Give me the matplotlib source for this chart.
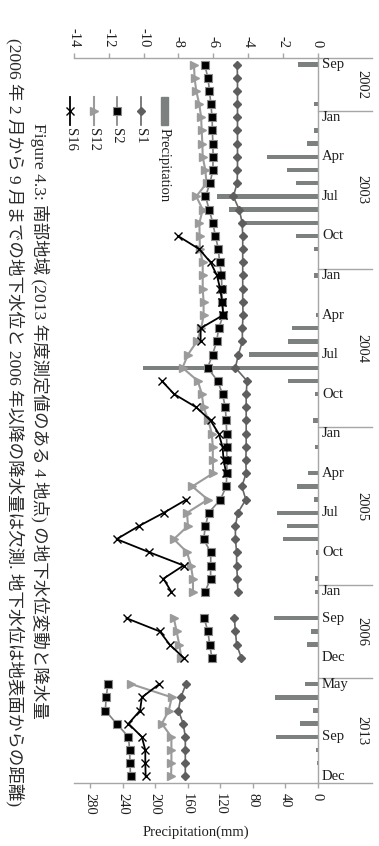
import numpy as np
import matplotlib
matplotlib.use('Agg')
from matplotlib import pyplot as plt
from matplotlib.lines import Line2D
from matplotlib.patches import Rectangle
from matplotlib.transforms import blended_transform_factory

nan = np.nan

# one slot per month, blank slots are the gaps in the record
month_labels = (['Sep', '', '', ''] +
                ['Jan', '', '', 'Apr', '', '', 'Jul', '', '', 'Oct', '', ''] * 3 +
                ['Jan', '', 'Sep', '', '', 'Dec', ''] +
                ['May', '', '', '', 'Sep', '', '', 'Dec'])
years = ['2002', '2003', '2004', '2005', '2006', '2013']
year_sizes = [4, 12, 12, 12, 7, 8]

precip = [24, 0, 0, 4.5, 0, 4.5, 13, 62, 37.5, 27, 124, 108.5, 91, 26.5, 4.5, 0,
          4.5, 0, 0, 2, 31.5, 36.5, 84.5, 215, 36.5, 3, 0, 5, 0, 2.5, 0, 12,
          25.7, 4.2, 49.5, 38, 42, 2, 0, 2.5, 3.5, nan, 54, 7.7, 13, 0, nan,
          15.6, 52.8, 5.5, 21.6, 51, 1.5, 1, 0]

s1 = [-4.62, -4.6, -4.6, -4.6, -4.6, -4.6, -4.6, -4.6, -4.6, -4.62, -4.84, -4.5, -4.33, -4.3, -4.3, -4.3,
      -4.3, -4.3, -4.3, -4.28, -4.32, -4.32, -4.55, -4.72, -4.05, -4.1, -4.1, -4.1, -4.1, -4.1, -4.12, -4.1,
      -4.35, -4.12, -4.58, -4.72, -4.72, -4.65, -4.65, -4.6, -4.58, nan, -4.78, -4.72, -4.65, -4.38, nan,
      -7.56, -7.86, -8.0, -7.72, -7.6, -7.6, -7.6, -7.6]

s2 = [-6.49, -6.3, -6.21, -6.13, -6.06, -6.04, -6.02, -6.0, -6.02, -6.18, -6.44, -6.23, -6.02, -5.87, -5.7, -5.63,
      -5.52, -5.5, -5.48, -5.42, -5.68, -5.8, -6.03, -6.32, -5.74, -5.46, -5.3, -5.25, -5.22, -5.22, -5.21, -5.21,
      -5.25, -5.58, -6.26, -6.44, -6.55, -6.14, -6.14, -6.15, -6.47, nan, -6.52, -6.3, -6.2, -6.07, nan,
      -12.05, -12.15, -12.2, -11.55, -10.87, -10.8, -10.78, -10.75]

s12 = [-7.1, -7.07, -6.97, -6.8, -6.69, -6.66, -6.62, -6.6, -6.45, -6.38, -6.97, -6.6, -6.79, -6.78, -6.76, -6.6,
       -6.6, -6.6, -6.55, -6.55, -6.68, -6.93, -7.45, -7.76, -6.88, -6.65, -6.55, -6.27, -6.08, -6.02, -6.02, -6.0,
       -7.2, -6.3, -7.5, -7.45, -8.26, -7.5, -7.28, -7.16, -7.16, nan, -8.26, -8.1, -7.95, -7.83, nan,
       -10.7, -8.38, -8.55, -8.95, -8.4, -8.4, -8.4, -8.42]

s16 = [nan, nan, nan, nan, nan, nan, nan, nan, nan, nan, nan, nan, nan, -8.02, -6.8, -6.15,
       -5.78, -5.6, -5.48, -5.42, -6.72, -6.72, nan, nan, -8.95, -8.24, -6.97, -6.15, -5.68, -5.46, -5.4, -5.25,
       nan, -7.54, -8.84, -10.26, -11.55, -9.66, -7.7, -8.86, -8.4, nan, -10.98, -9.07, -8.5, -7.7, nan,
       -9.1, -10.1, -10.2, -10.87, -10.1, -9.9, -9.9, -9.88]

caption1 = 'Figure 4.3: 南部地域 (2013 年度測定値のある 4 地点) の地下水位変動と降水量'
caption2 = '(2006 年 2 月から 9 月までの地下水位と 2006 年以降の降水量は欠測. 地下水位は地表面からの距離)'

plt.rcParams['font.family'] = ['Liberation Serif', 'Noto Sans CJK JP']
plt.rcParams['axes.unicode_minus'] = False

W, H = 379, 846
fig = plt.figure(figsize=(W / 100, H / 100), dpi=100)

def fx(x):
    return x / W

def fy(y):
    return 1 - y / H

slots = np.arange(len(month_labels))
axis_col = '#a6a6a6'
txt_col = '#1e1e1e'

style_s1 = dict(color='#666666', lw=1.2, marker='D', ms=4, mfc='#5e5e5e', mec='#5e5e5e')
style_s2 = dict(color='#808080', lw=1.2, marker='s', ms=5.2, mfc='black', mec='#8a8a8a', mew=0.8)
style_s12 = dict(color='#9b9b9b', lw=1.5, marker='>', ms=6, mfc='#9b9b9b', mec='#9b9b9b')
style_s16 = dict(color='black', lw=1.3, marker='x', ms=6, mew=1.0)

ax = fig.add_axes([fx(74), fy(783), 243.5 / W, 725 / H])
ax2 = ax.twiny()
ax.set_zorder(2)
ax2.set_zorder(1)
ax.patch.set_visible(False)

# precipitation bars hang from the zero line
ax2.barh(slots, precip, height=0.34, color='#7c807f', zorder=1)
ax2.set_xlim(300, 0)
ax2.set_xticks([280, 240, 200, 160, 120, 80, 40, 0])
ax2.xaxis.set_ticks_position('bottom')
for sp in ax2.spines.values():
    sp.set_visible(False)
ax2.tick_params(axis='x', direction='out', length=3.5, width=1, color=axis_col,
                labelrotation=-90, labelsize=10.5, labelcolor=txt_col, pad=4)

# groundwater levels
ax.plot(s12, slots, zorder=3, **style_s12)
ax.plot(s2, slots, zorder=4, **style_s2)
ax.plot(s1, slots, zorder=5, **style_s1)
ax.plot(s16, slots, zorder=6, **style_s16)

ax.set_xlim(-14, 0)
ax.set_ylim(len(slots) - 0.5, -0.5)
ax.xaxis.tick_top()
ax.set_xticks(np.arange(-14, 1, 2))
ax.tick_params(axis='x', direction='out', length=3.5, width=1, color=axis_col,
               labelrotation=-90, labelsize=10.5, labelcolor=txt_col, pad=4)
ax.set_yticks([])
ax.spines['left'].set_visible(False)
for side in ['top', 'right', 'bottom']:
    ax.spines[side].set_color(axis_col)
    ax.spines[side].set_linewidth(1)

# category axis (month and year labels) to the right of the zero line
tr = blended_transform_factory(ax.transAxes, ax.transData)
for i, lab in enumerate(month_labels):
    if lab:
        ax.text(1.0185, i, lab, transform=tr, ha='left', va='center',
                fontsize=10.5, color=txt_col)
bounds = np.concatenate([[0], np.cumsum(year_sizes)]) - 0.5
for b in bounds:
    ax.plot([1.0, 1.224], [b, b], transform=tr, color=axis_col, lw=1, clip_on=False)
for k, yr in enumerate(years):
    mid = (bounds[k] + bounds[k + 1]) / 2
    ax.text(1.183, mid, yr, transform=tr, rotation=-90, ha='center', va='center',
            fontsize=10.5, color=txt_col)

fig.text(fx(196), fy(832), 'Precipitation(mm)', ha='center', va='center',
         fontsize=10.5, color=txt_col)

# legend, drawn sideways like the rest of the chart
leg_y0, leg_y1 = 97, 125
fig.add_artist(Rectangle((fx(160.5), fy(leg_y1)), 7 / W, (leg_y1 - leg_y0) / H,
                         transform=fig.transFigure, color='#7c807f'))
fig.text(fx(164), fy(128), 'Precipitation', rotation=-90, rotation_mode='anchor',
         ha='left', va='center', fontsize=10.5, color=txt_col)
legend_items = [('S1', 140.5, style_s1), ('S2', 116.5, style_s2),
                ('S12', 93.5, style_s12), ('S16', 70, style_s16)]
for name, xp, style in legend_items:
    ln = Line2D([fx(xp)] * 3, [fy(leg_y0), fy((leg_y0 + leg_y1) / 2), fy(leg_y1)],
                transform=fig.transFigure, markevery=[1], **style)
    fig.add_artist(ln)
    fig.text(fx(xp), fy(128), name, rotation=-90, rotation_mode='anchor',
             ha='left', va='center', fontsize=10.5, color=txt_col)

# caption, rotated with the figure
fig.text(fx(40), fy(123), caption1, rotation=-90, rotation_mode='anchor',
         ha='left', va='center', fontsize=12.6, color='#2a2a2a')
fig.text(fx(15), fy(38), caption2, rotation=-90, rotation_mode='anchor',
         ha='left', va='center', fontsize=12.6, color='#2a2a2a')

fig.savefig('out.png', dpi=100)
